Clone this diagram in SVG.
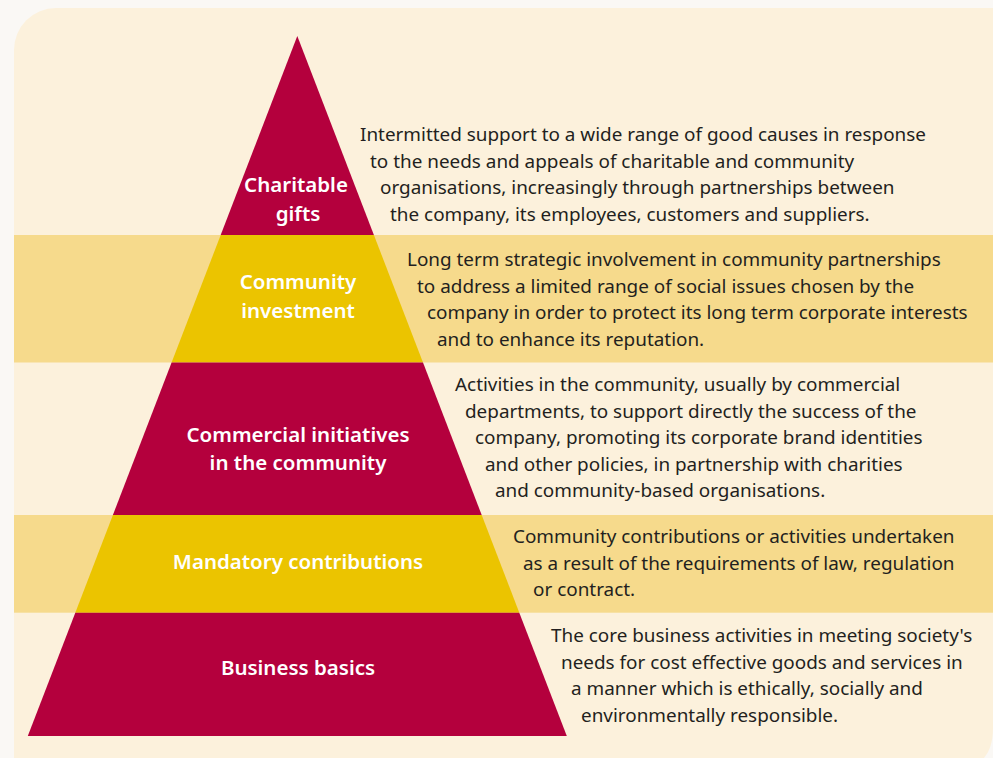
<svg xmlns="http://www.w3.org/2000/svg" width="993" height="758" viewBox="0 0 993 758">
  <style>
    .desc { font-family: "Noto Sans", "Open Sans", sans-serif; font-size: 18.9px; fill: #231f20; }
    .label { font-family: "Noto Sans", "Open Sans", sans-serif; font-size: 20.5px; font-weight: 600; fill: #ffffff; text-anchor: middle; }
    .red { fill: #b4003d; }
    .gold { fill: #ebc400; }
    .band { fill: #f6da8c; }
  </style>

  <!-- page and panel -->
  <rect x="0" y="0" width="993" height="758" fill="#faf8f5"/>
  <path d="M14,762 V50 A42,42 0 0 1 56,8 H993 V728 C993,745 988,755 980,762 Z" fill="#fcf1dc"/>

  <!-- shaded rows behind the gold tiers -->
  <rect class="band" x="14" y="235" width="979" height="127.5"/>
  <rect class="band" x="14" y="515" width="979" height="97.7"/>

  <g id="tier-charitable-gifts">
    <polygon class="red" points="297.3,36 373.9,235 220.7,235"/>
    <text class="label" x="296" y="192">Charitable</text>
    <text class="label" x="298" y="221">gifts</text>
    <text class="desc">
      <tspan x="360" y="141">Intermitted support to a wide range of good causes in response</tspan>
      <tspan x="370" y="167.5">to the needs and appeals of charitable and community</tspan>
      <tspan x="380" y="194">organisations, increasingly through partnerships between</tspan>
      <tspan x="390" y="220.5">the company, its employees, customers and suppliers.</tspan>
    </text>
  </g>

  <g id="tier-community-investment">
    <polygon class="gold" points="220.7,235 373.9,235 423,362.5 171.6,362.5"/>
    <text class="label" x="298" y="289">Community</text>
    <text class="label" x="298" y="318">investment</text>
    <text class="desc">
      <tspan x="407" y="266">Long term strategic involvement in community partnerships</tspan>
      <tspan x="417" y="292.5">to address a limited range of social issues chosen by the</tspan>
      <tspan x="427" y="319">company in order to protect its long term corporate interests</tspan>
      <tspan x="437" y="345.5">and to enhance its reputation.</tspan>
    </text>
  </g>

  <g id="tier-commercial-initiatives">
    <polygon class="red" points="171.6,362.5 423,362.5 481.7,515 112.9,515"/>
    <text class="label" x="298" y="442">Commercial initiatives</text>
    <text class="label" x="298" y="470">in the community</text>
    <text class="desc">
      <tspan x="455" y="391">Activities in the community, usually by commercial</tspan>
      <tspan x="465" y="417.5">departments, to support directly the success of the</tspan>
      <tspan x="475" y="444">company, promoting its corporate brand identities</tspan>
      <tspan x="485" y="470.5">and other policies, in partnership with charities</tspan>
      <tspan x="495" y="497">and community-based organisations.</tspan>
    </text>
  </g>

  <g id="tier-mandatory-contributions">
    <polygon class="gold" points="112.9,515 481.7,515 519.3,612.7 75.3,612.7"/>
    <text class="label" x="298" y="569">Mandatory contributions</text>
    <text class="desc">
      <tspan x="513" y="543">Community contributions or activities undertaken</tspan>
      <tspan x="523" y="569.5">as a result of the requirements of law, regulation</tspan>
      <tspan x="533" y="596">or contract.</tspan>
    </text>
  </g>

  <g id="tier-business-basics">
    <polygon class="red" points="75.3,612.7 519.3,612.7 566.8,736 27.8,736"/>
    <text class="label" x="298" y="675">Business basics</text>
    <text class="desc">
      <tspan x="551" y="642">The core business activities in meeting society's</tspan>
      <tspan x="561" y="668.5">needs for cost effective goods and services in</tspan>
      <tspan x="571" y="695">a manner which is ethically, socially and</tspan>
      <tspan x="581" y="721.5">environmentally responsible.</tspan>
    </text>
  </g>

  <!-- no connectors in this figure -->
  <g id="connectors"/>
</svg>
